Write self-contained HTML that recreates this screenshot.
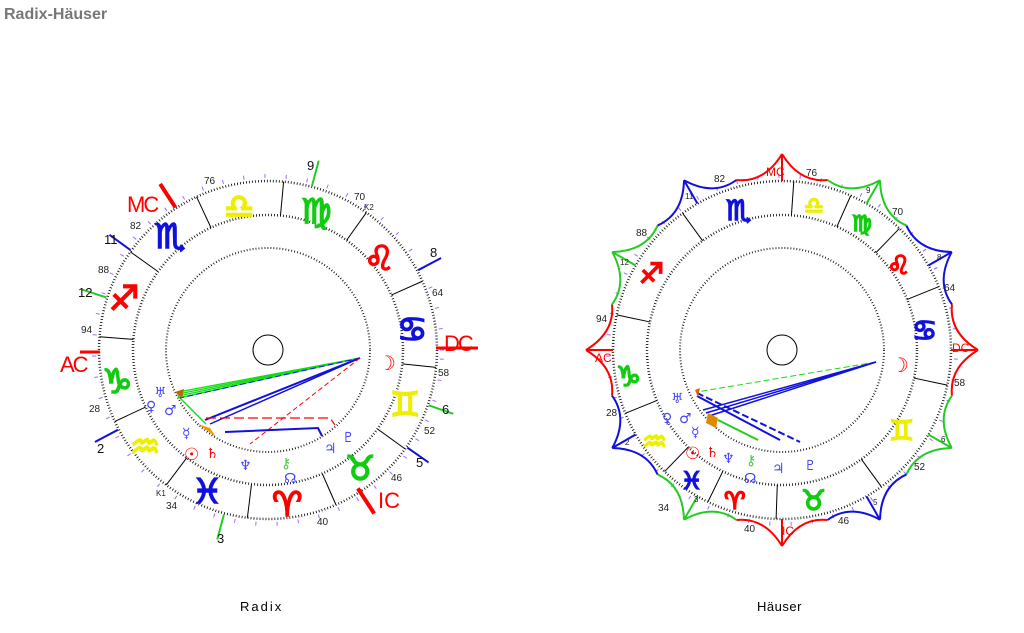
<!DOCTYPE html>
<html><head><meta charset="utf-8"><style>
body{margin:0;background:#fff;width:1024px;height:633px;overflow:hidden;font-family:"Liberation Sans","DejaVu Sans",sans-serif}
svg{position:absolute;left:0;top:0}
.g{font-family:"DejaVu Sans",sans-serif;font-weight:bold}
.z text{stroke-width:1.6}
.n{font-size:10px;fill:#222}
</style></head><body>
<svg id="s" width="1024" height="633" xmlns="http://www.w3.org/2000/svg">
<text x="4" y="19" font-size="16" font-weight="bold" fill="#777">Radix-Häuser</text>
<text x="240" y="611" font-size="13" letter-spacing="2">Radix</text>
<text x="757" y="611" font-size="13" letter-spacing="0.5">Häuser</text>
<g id="L"></g><g id="R"></g>
<g class="n">
<text x="204" y="184">76</text><text x="354" y="200">70</text><text x="364" y="210" font-size="8">K2</text>
<text x="432" y="296">64</text><text x="438" y="376">58</text><text x="424" y="434">52</text>
<text x="391" y="481">46</text><text x="317" y="525">40</text><text x="166" y="509">34</text>
<text x="156" y="496" font-size="8">K1</text><text x="89" y="412">28</text><text x="81" y="333">94</text>
<text x="98" y="273">88</text><text x="130" y="229">82</text>
</g>
<g font-size="13" fill="#111"><text x="307" y="170">9</text><text x="430" y="257">8</text><text x="442" y="414">6</text>
<text x="416" y="467">5</text><text x="217" y="543">3</text><text x="97" y="453">2</text><text x="78" y="297">12</text><text x="104" y="244">11</text></g>
<g fill="red" font-size="22"><text x="127" y="212" letter-spacing="-2">MC</text><text x="60" y="372" letter-spacing="-2">AC</text>
<text x="444" y="351" letter-spacing="-2">DC</text><text x="378" y="508">IC</text></g>
<g class="g z" font-size="34">
<text x="224" y="218" fill="#ee0" stroke="#ee0">♎</text><text x="301" y="223" fill="#1c1" stroke="#1c1">♍</text><text x="364" y="270" fill="red" stroke="red">♌</text>
<text x="397" y="341" fill="#11d" stroke="#11d">♋</text><text x="390" y="416" fill="#ee0" stroke="#ee0">♊</text><text x="345" y="480" fill="#1c1" stroke="#1c1">♉</text>
<text x="272" y="516" fill="red" stroke="red">♈</text><text x="192" y="503" fill="#11d" stroke="#11d">♓</text><text x="130" y="458" fill="#ee0" stroke="#ee0">♒</text>
<text x="102" y="393" fill="#1c1" stroke="#1c1">♑</text><text x="109" y="310" fill="red" stroke="red">♐</text><text x="155" y="248" fill="#11d" stroke="#11d">♏</text>
</g>
<g class="g" font-size="14" font-weight="normal">
<text x="378" y="370" fill="red" font-size="20" font-weight="bold">☽</text>
<text x="154" y="397" fill="#44f">♅</text><text x="146" y="411" fill="#44f">♀</text><text x="164" y="415" fill="#44f">♂</text>
<text x="182" y="438" fill="#44f">☿</text><text x="184" y="460" fill="red" font-size="17">☉</text><text x="206" y="458" fill="red">♄</text>
<text x="239" y="470" fill="#44f">♆</text><text x="281" y="468" fill="#4c4">⚷</text><text x="284" y="483" fill="#44f">☊</text>
<text x="324" y="453" fill="#44f">♃</text><text x="342" y="442" fill="#44f">♇</text>
</g>
<g class="n">
<text x="714" y="182">82</text><text x="806" y="176">76</text><text x="892" y="215">70</text><text x="944" y="291">64</text>
<text x="954" y="386">58</text><text x="914" y="470">52</text><text x="838" y="524">46</text><text x="744" y="532">40</text>
<text x="658" y="511">34</text><text x="606" y="416">28</text><text x="596" y="322">94</text><text x="636" y="236">88</text>
</g>
<g font-size="8" fill="#222"><text x="685" y="199">11</text><text x="866" y="193">9</text><text x="937" y="260">8</text>
<text x="620" y="265">12</text><text x="625" y="445">2</text><text x="694" y="502">3</text><text x="873" y="505">5</text><text x="941" y="442">6</text></g>
<g fill="red" font-size="12"><text x="766" y="176">MC</text><text x="595" y="362">AC</text><text x="952" y="352">DC</text><text x="782" y="535">IC</text></g>
<g class="g z" font-size="28">
<text x="804" y="213" fill="#ee0" stroke="#ee0" font-size="22">♎</text><text x="852" y="231" fill="#1c1" stroke="#1c1" font-size="22">♍</text><text x="887" y="274" fill="red" stroke="red" font-size="26">♌</text>
<text x="912" y="340" fill="#11d" stroke="#11d">♋</text><text x="889" y="440" fill="#ee0" stroke="#ee0">♊</text><text x="801" y="510" fill="#1c1" stroke="#1c1">♉</text>
<text x="724" y="509" fill="red" stroke="red" font-size="24">♈</text><text x="681" y="489" fill="#11d" stroke="#11d" font-size="24">♓</text><text x="642" y="451" fill="#ee0" stroke="#ee0">♒</text>
<text x="616" y="386" fill="#1c1" stroke="#1c1">♑</text><text x="639" y="283" fill="red" stroke="red">♐</text><text x="726" y="220" fill="#11d" stroke="#11d">♏</text>
</g>
<g class="g" font-size="14" font-weight="normal">
<text x="891" y="372" fill="red" font-size="20" font-weight="bold">☽</text>
<text x="671" y="403" fill="#44f">♅</text><text x="662" y="423" fill="#44f">♀</text><text x="679" y="423" fill="#44f">♂</text>
<text x="691" y="437" fill="#44f">☿</text><text x="685" y="459" fill="red" font-size="17">☉</text><text x="706" y="457" fill="red">♄</text>
<text x="722" y="463" fill="#44f">♆</text><text x="746" y="465" fill="#4c4">⚷</text><text x="744" y="483" fill="#44f">☊</text>
<text x="772" y="473" fill="#44f">♃</text><text x="804" y="470" fill="#44f">♇</text>
</g>
</svg>
<script>
var NS="http://www.w3.org/2000/svg";
function el(p,t,a){var e=document.createElementNS(NS,t);for(var k in a)e.setAttribute(k,a[k]);p.appendChild(e);return e;}
function P(cx,cy,r,d){var a=d*Math.PI/180;return [cx+r*Math.cos(a),cy+r*Math.sin(a)];}
function chart(g,cx,cy,bounds){
 el(g,"circle",{cx:cx,cy:cy,r:169,fill:"none",stroke:"#000","stroke-width":2.5,"stroke-dasharray":"0.8 2.2"});
 el(g,"circle",{cx:cx,cy:cy,r:135,fill:"none",stroke:"#000","stroke-width":2.5,"stroke-dasharray":"0.8 2.2"});
 el(g,"circle",{cx:cx,cy:cy,r:102,fill:"none",stroke:"#000","stroke-width":2,"stroke-dasharray":"0.8 2.2"});
 el(g,"circle",{cx:cx,cy:cy,r:15,fill:"none",stroke:"#000","stroke-width":1});
 bounds.forEach(function(d){var a=P(cx,cy,135,d),b=P(cx,cy,169,d);el(g,"line",{x1:a[0],y1:a[1],x2:b[0],y2:b[1],stroke:"#000","stroke-width":1});});
 for(var d=0;d<360;d+=7){var a=P(cx,cy,172,d+3),b=P(cx,cy,176,d+3);el(g,"line",{x1:a[0],y1:a[1],x2:b[0],y2:b[1],stroke:"#a6f","stroke-width":1});}
}
var L=document.getElementById("L"),R=document.getElementById("R");
chart(L,268,350,[-84.7,-54.4,-24,5.9,35.8,66.3,97,127,155,184.5,215.5,245]);
chart(R,782,350,[-86,-66,-46,-22,12,54,92,116,134,158,192,234]);
[[-75,"#2c2"],[-28,"#11d"],[19,"#2c2"],[35,"#11d"],[105,"#2c2"],[152,"#11d"],[-162,"#2c2"],[-144,"#11d"]].forEach(function(h){
 var a=P(268,350,170,h[0]),b=P(268,350,196,h[0]);el(L,"line",{x1:a[0],y1:a[1],x2:b[0],y2:b[1],stroke:h[1],"stroke-width":2});});
[[-123,170,198],[57,165,195]].forEach(function(h){var a=P(268,350,h[1],h[0]),b=P(268,350,h[2],h[0]);el(L,"line",{x1:a[0],y1:a[1],x2:b[0],y2:b[1],stroke:"red","stroke-width":4});});
el(L,"line",{x1:80,y1:352,x2:100,y2:352,stroke:"red","stroke-width":3});
el(L,"line",{x1:436,y1:348,x2:478,y2:348,stroke:"red","stroke-width":3});
var m=[360,358];
for(var i=0;i<4;i++)el(L,"line",{x1:m[0],y1:m[1],x2:178,y2:392+i*2,stroke:"#1d1","stroke-width":1.3});
el(L,"line",{x1:178,y1:396,x2:206,y2:424,stroke:"#1d1","stroke-width":1.3});
el(L,"line",{x1:m[0],y1:m[1],x2:205,y2:420,stroke:"#11d","stroke-width":2});
el(L,"line",{x1:m[0],y1:m[1],x2:210,y2:424,stroke:"#11d","stroke-width":1.5});
el(L,"line",{x1:m[0],y1:m[1],x2:180,y2:398,stroke:"#11d","stroke-width":1,"stroke-dasharray":"6 3"});
el(L,"line",{x1:m[0],y1:m[1],x2:250,y2:444,stroke:"red","stroke-width":1,"stroke-dasharray":"5 3"});
el(L,"polyline",{points:"206,418 330,418 335,425",fill:"none",stroke:"red","stroke-width":1.2,"stroke-dasharray":"10 4"});
el(L,"polyline",{points:"225,432 318,428 322,436",fill:"none",stroke:"#11d","stroke-width":2});
el(L,"polygon",{points:"198,424 210,428 216,437",fill:"#e90"});
el(L,"polygon",{points:"175,392 184,389 182,398",fill:"#b60"});
var cx=782,cy=350,pts=[[-90,"red"],[-60,"#2c2"],[-30,"#11d"],[0,"red"],[30,"#2c2"],[60,"#11d"],[90,"red"],[120,"#2c2"],[150,"#11d"],[180,"red"],[210,"#2c2"],[240,"#11d"]];
for(var i=0;i<12;i++){var A=pts[i],B=pts[(i+1)%12];var a=P(cx,cy,196,A[0]),b=P(cx,cy,196,A[0]+30);
 var mid=P(cx,cy,176,A[0]+15);
 el(R,"path",{d:"M"+a+" Q"+P(cx,cy,168,A[0]+6)+" "+mid,fill:"none",stroke:A[1],"stroke-width":2});
 el(R,"path",{d:"M"+mid+" Q"+P(cx,cy,168,A[0]+24)+" "+b,fill:"none",stroke:B[1],"stroke-width":2});
 var i1=P(cx,cy,169,A[0]);el(R,"line",{x1:a[0],y1:a[1],x2:i1[0],y2:i1[1],stroke:A[1],"stroke-width":2});}
var m2=[876,362];
el(R,"line",{x1:m2[0],y1:m2[1],x2:697,y2:392,stroke:"#1d1","stroke-width":1,"stroke-dasharray":"6 3"});
for(var i=0;i<3;i++)el(R,"line",{x1:m2[0],y1:m2[1],x2:703+i*3,y2:410+i*3,stroke:"#11d","stroke-width":1.5});
el(R,"line",{x1:697,y1:393,x2:800,y2:442,stroke:"#11d","stroke-width":2,"stroke-dasharray":"7 3"});
el(R,"line",{x1:697,y1:396,x2:780,y2:440,stroke:"#11d","stroke-width":2});
el(R,"line",{x1:718,y1:420,x2:758,y2:440,stroke:"#2c2","stroke-width":2});
el(R,"polygon",{points:"695,390 700,388 698,397",fill:"#d60"});
el(R,"polygon",{points:"708,413 718,418 716,428 706,423",fill:"#d80"});
</script>
</body></html>
